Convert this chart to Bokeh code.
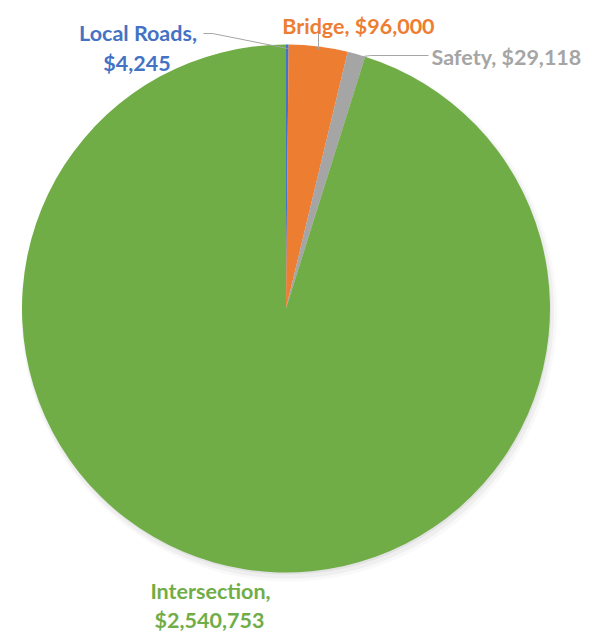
import math
from bokeh.plotting import figure
from bokeh.models import Range1d, ColumnDataSource
from bokeh.core.properties import value
from bokeh.embed import file_html
from bokeh.resources import INLINE

# ---- data ----
categories = ["Local Roads", "Bridge", "Safety", "Intersection"]
amounts = [4245, 96000, 29118, 2540753]

# ---- styles ----
colors = ["#4472C4", "#ED7D31", "#A5A5A5", "#70AD47"]
FONT = "Lato"
FS = "21.5px"

W, H = 593, 632
# data coords: x = image px, y = 632 - image py
p = figure(width=W, height=H, x_range=Range1d(0, 593), y_range=Range1d(0, 632),
           output_backend="svg", toolbar_location=None, min_border=0)
p.axis.visible = False
p.grid.visible = False
p.outline_line_color = None
p.background_fill_color = "white"

CX, CY, R = 285.5, 632 - 308, 264

# soft shadow
for dx, dy, dr, a in [(3, -5, 4, 0.05), (2, -4, 2, 0.08), (1, -2, 0, 0.12)]:
    p.circle(x=[CX + dx], y=[CY + dy], radius=R + dr, fill_color="#808080",
             fill_alpha=a, line_color=None)

total = sum(amounts)
starts, ends = [], []
cum = 0.0
for v in amounts:
    starts.append(math.pi / 2 - cum / total * 2 * math.pi)
    cum += v
    ends.append(math.pi / 2 - cum / total * 2 * math.pi)

src = ColumnDataSource(dict(cat=categories, val=amounts, start=starts, end=ends, color=colors))
p.wedge(x=CX, y=CY, radius=R, start_angle="start", end_angle="end", direction="clock",
        fill_color="color", line_color=None, source=src)

# leader lines (image px coords)
def Y(py):
    return 632 - py

leaders = [
    ([203, 212, 287], [33, 33, 48]),
    ([318, 318], [32, 49]),
    ([355, 370, 428], [57, 55, 55]),
]
for xs, ys in leaders:
    p.line(xs, [Y(v) for v in ys], line_color="#A6A6A6", line_width=1)

def money(v):
    return "${:,}".format(v)

# labels: (text, x_center, baseline_y_image, color)
labels = [
    (categories[0] + ",", 137.5, 32, colors[0]),
    (money(amounts[0]), 136.5, 62, colors[0]),
    (categories[1] + ",  " + money(amounts[1]), 360.5, 25, colors[1]),
    (categories[2] + ",  " + money(amounts[2]), 508.5, 56, colors[2]),
    (categories[3] + ",", 210, 590, colors[3]),
    (money(amounts[3]), 209, 619, colors[3]),
]
for t, x, by, c in labels:
    p.text(x=[x], y=[Y(by)], text=[t], text_color=c, text_font=value(FONT),
           text_font_size=FS, text_font_style="bold", text_align="center",
           text_baseline="alphabetic")

open("out.html", "w").write(file_html(p, INLINE))
